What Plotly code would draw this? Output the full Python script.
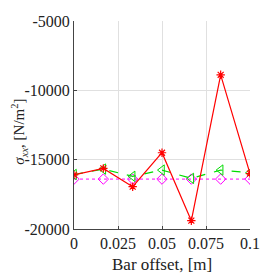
import plotly.graph_objects as go

x_vals = [0, 0.016667, 0.033333, 0.05, 0.066667, 0.083333, 0.1]
red_vals = [-16100, -15630, -16950, -14500, -19400, -8880, -16000]
green_vals = [-16070, -15680, -16200, -15750, -16350, -15750, -15950]
magenta_vals = [-16400, -16400, -16400, -16400, -16400, -16400, -16400]

x_ticks = [0, 0.025, 0.05, 0.075, 0.1]
x_ticktext = ["0", "0.025", "0.05", "0.075", "0.1"]
y_ticks = [-5000, -10000, -15000, -20000]
y_ticktext = ["-5000", "-10000", "-15000", "-20000"]
x_title = "Bar offset, [m]"
y_title = "<i>σ</i><sub><i>xx</i></sub>, [N/m<sup>2</sup>]"

serif = "Liberation Serif"

fig = go.Figure()
fig.add_trace(go.Scatter(x=x_vals, y=magenta_vals, mode="lines+markers",
                         line=dict(color="#FF00FF", width=1, dash="dot"),
                         marker=dict(symbol="diamond-open", size=8, color="#FF00FF", line=dict(width=1))))
fig.add_trace(go.Scatter(x=x_vals, y=green_vals, mode="lines+markers",
                         line=dict(color="#00DD00", width=1.2, dash="dash"),
                         marker=dict(symbol="triangle-left-open", size=9, color="#00DD00", line=dict(width=1))))
fig.add_trace(go.Scatter(x=x_vals, y=red_vals, mode="lines+markers",
                         line=dict(color="#FF0000", width=1.2),
                         marker=dict(symbol="asterisk-open", size=7, color="#FF0000", line=dict(width=1.2, color="#FF0000"))))

fig.update_layout(
    width=276, height=276,
    margin=dict(l=66, r=34, t=13, b=55),
    paper_bgcolor="white", plot_bgcolor="white",
    showlegend=False,
    font=dict(family=serif, size=16, color="#222222"),
    annotations=[
        dict(text=x_title, xref="paper", yref="paper", x=0.5, y=-0.17,
             xanchor="center", yanchor="middle", showarrow=False,
             font=dict(family=serif, size=17, color="#222222")),
        dict(text=y_title, xref="paper", yref="paper", x=-0.31, y=0.47,
             xanchor="center", yanchor="middle", showarrow=False, textangle=-90,
             font=dict(family=serif, size=15, color="#222222")),
    ],
)
fig.update_xaxes(range=[0, 0.1], tickvals=x_ticks, ticktext=x_ticktext,
                 automargin=False,
                 showgrid=True, gridcolor="#E0E0E0", gridwidth=1,
                 showline=True, linecolor="#444444", linewidth=1,
                 ticks="inside", ticklen=3, tickcolor="#444444",
                 zeroline=False, tickfont=dict(family=serif, size=16))
fig.update_yaxes(range=[-20000, -5000], tickvals=y_ticks, ticktext=y_ticktext,
                 automargin=False,
                 showgrid=True, gridcolor="#E0E0E0", gridwidth=1,
                 showline=True, linecolor="#444444", linewidth=1,
                 ticks="inside", ticklen=3, tickcolor="#444444",
                 zeroline=False, tickfont=dict(family=serif, size=16))

fig.write_html("out.html")
